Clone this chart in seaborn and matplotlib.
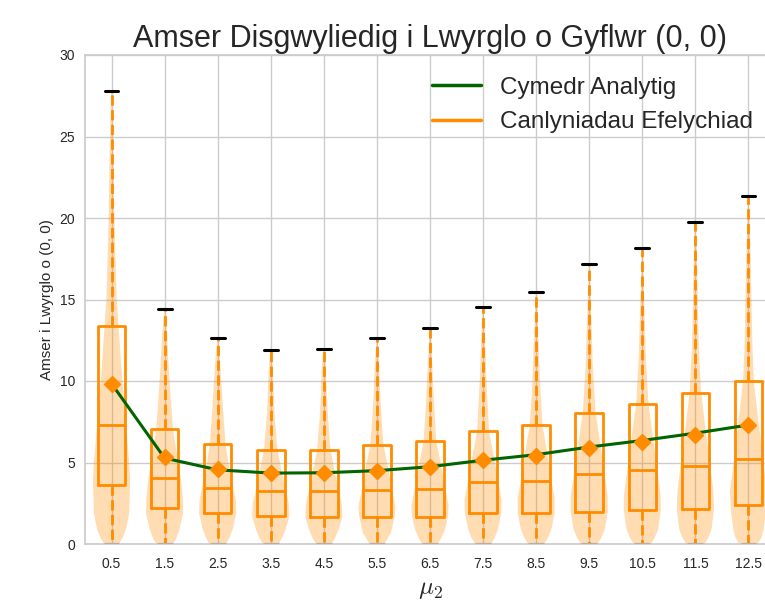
"""Violin + box summary of simulated time-to-absorption from state (0, 0),
with the analytic mean overlaid, for a sweep of mu_2."""
import matplotlib

matplotlib.use("Agg")
import matplotlib.pyplot as plt
import numpy as np
import seaborn as sns
from matplotlib.lines import Line2D

# values
MU2 = [0.5, 1.5, 2.5, 3.5, 4.5, 5.5, 6.5, 7.5, 8.5, 9.5, 10.5, 11.5, 12.5]
MINIMUM = [0, 0, 0, 0, 0, 0, 0, 0, 0, 0, 0, 0, 0]
Q1 = [3.65, 2.22, 1.88, 1.71, 1.63, 1.67, 1.67, 1.88, 1.88, 1.98, 2.08, 2.14, 2.39]
MEDIAN = [7.33, 4.06, 3.43, 3.25, 3.25, 3.31, 3.37, 3.78, 3.86, 4.27, 4.57, 4.80, 5.19]
Q3 = [13.35, 7.08, 6.12, 5.76, 5.78, 6.10, 6.31, 6.94, 7.31, 8.06, 8.57, 9.27, 9.98]
MAXIMUM = [27.8, 14.39, 12.63, 11.88, 11.98, 12.63, 13.23, 14.55, 15.45, 17.15, 18.19, 19.78, 21.35]
SIM_MEAN = [9.84, 5.31, 4.59, 4.35, 4.35, 4.49, 4.73, 5.14, 5.39, 5.92, 6.27, 6.67, 7.29]
ANALYTIC_MEAN = [9.84, 5.27, 4.55, 4.35, 4.37, 4.50, 4.74, 5.14, 5.48, 5.95, 6.35, 6.80, 7.30]

# violin outlines: levels (y) and relative half-width at each level
VIOLIN_LEVELS = [
    [0, 0.4, 0.9, 1.9, 3.9, 5.0, 7.0, 10.0, 13.3, 15.0, 18.0, 21.0, 24.0, 27.8],
    [0, 0.4, 0.9, 1.9, 2.8, 4.0, 5.3, 7.1, 8.8, 10.9, 12.9, 14.39],
    [0, 0.4, 0.9, 1.9, 2.7, 3.5, 4.6, 6.1, 8.2, 10.2, 11.5, 12.63],
    [0, 0.4, 0.9, 1.7, 2.5, 3.3, 4.4, 5.8, 7.8, 9.5, 10.9, 11.88],
    [0, 0.4, 0.9, 1.7, 2.5, 3.3, 4.4, 5.8, 7.8, 9.5, 11.0, 11.98],
    [0, 0.4, 0.7, 1.7, 2.3, 3.5, 4.7, 6.1, 7.2, 8.8, 10.9, 12.63],
    [0, 0.4, 0.8, 1.7, 2.4, 3.5, 4.8, 6.3, 8.8, 11.0, 13.23],
    [0, 0.4, 0.9, 1.9, 2.7, 3.8, 5.1, 6.9, 10.0, 12.5, 14.55],
    [0, 0.4, 0.9, 1.9, 2.8, 3.9, 5.4, 7.3, 10.0, 13.0, 15.45],
    [0, 0.4, 0.9, 2.0, 3.0, 4.3, 5.9, 8.1, 11.0, 14.0, 17.15],
    [0, 0.4, 0.9, 2.1, 3.1, 4.6, 6.3, 8.6, 11.5, 15.0, 18.19],
    [0, 0.4, 0.9, 2.1, 3.2, 4.8, 6.7, 9.3, 11.9, 14.9, 18.0, 19.78],
    [0, 0.4, 0.9, 2.1, 3.2, 5.2, 7.3, 10.0, 11.9, 14.9, 18.0, 21.35],
]
VIOLIN_WIDTHS = [
    [0.40, 0.60, 0.78, 0.95, 1.0, 0.95, 0.80, 0.58, 0.38, 0.28, 0.20, 0.14, 0.10, 0.02],
    [0.45, 0.64, 0.80, 1.0, 0.98, 0.88, 0.68, 0.45, 0.34, 0.22, 0.13, 0.02],
    [0.45, 0.63, 0.80, 0.99, 0.97, 0.82, 0.62, 0.42, 0.29, 0.18, 0.11, 0.02],
    [0.42, 0.62, 0.80, 1.0, 0.97, 0.80, 0.60, 0.36, 0.21, 0.15, 0.10, 0.02],
    [0.42, 0.62, 0.80, 1.0, 0.96, 0.80, 0.60, 0.36, 0.22, 0.15, 0.10, 0.02],
    [0.40, 0.60, 0.76, 0.95, 1.0, 0.78, 0.60, 0.35, 0.28, 0.19, 0.12, 0.02],
    [0.42, 0.62, 0.78, 0.97, 1.0, 0.80, 0.60, 0.34, 0.21, 0.12, 0.02],
    [0.43, 0.63, 0.80, 0.98, 1.0, 0.82, 0.62, 0.32, 0.18, 0.11, 0.02],
    [0.44, 0.64, 0.82, 0.99, 1.0, 0.82, 0.62, 0.34, 0.20, 0.11, 0.02],
    [0.45, 0.66, 0.84, 1.0, 0.99, 0.82, 0.62, 0.34, 0.19, 0.11, 0.02],
    [0.47, 0.67, 0.85, 1.0, 0.98, 0.80, 0.60, 0.33, 0.19, 0.10, 0.02],
    [0.50, 0.70, 0.87, 1.0, 0.97, 0.80, 0.58, 0.31, 0.19, 0.13, 0.08, 0.02],
    [0.50, 0.70, 0.82, 0.95, 1.0, 0.78, 0.56, 0.29, 0.22, 0.16, 0.11, 0.02],
]

ORANGE = "darkorange"
GREEN = "darkgreen"


def _setup_style() -> None:
    sns.set_style("whitegrid")
    plt.rcParams["font.family"] = ["Liberation Sans", "DejaVu Sans"]
    plt.rcParams["mathtext.fontset"] = "cm"
    plt.rcParams["axes.edgecolor"] = "0.8"
    plt.rcParams["axes.linewidth"] = 1.25
    plt.rcParams["grid.color"] = "0.8"
    plt.rcParams["grid.linewidth"] = 1.0


def main() -> None:
    _setup_style()
    fig = plt.figure(figsize=(7.65, 6.09), dpi=100)
    ax = fig.add_axes([85 / 765, 65 / 609, 690 / 765, 489 / 609])

    vpstats = [
        dict(coords=np.array(lv, float), vals=np.array(w, float),
             mean=m, median=md, min=lo, max=hi)
        for lv, w, m, md, lo, hi in zip(VIOLIN_LEVELS, VIOLIN_WIDTHS, SIM_MEAN,
                                        MEDIAN, MINIMUM, MAXIMUM)
    ]
    parts = ax.violin(vpstats, positions=MU2, widths=0.7, showextrema=False)
    for body in parts["bodies"]:
        body.set_facecolor(ORANGE)
        body.set_edgecolor("none")
        body.set_alpha(0.3)
        body.set_zorder(1.5)

    box_stats = [
        dict(med=md, q1=a, q3=b, whislo=lo, whishi=hi, mean=m, fliers=[])
        for md, a, b, lo, hi, m in zip(MEDIAN, Q1, Q3, MINIMUM, MAXIMUM, SIM_MEAN)
    ]
    ax.bxp(
        box_stats, positions=MU2, widths=0.52, showmeans=True, showfliers=False,
        manage_ticks=False,
        boxprops=dict(color=ORANGE, linewidth=2),
        whiskerprops=dict(color=ORANGE, linewidth=2, linestyle="--"),
        capprops=dict(color="black", linewidth=2.2),
        medianprops=dict(color=ORANGE, linewidth=2),
        meanprops=dict(marker="D", markerfacecolor=ORANGE,
                       markeredgecolor=ORANGE, markersize=8.5, zorder=5),
    )

    sns.lineplot(x=MU2, y=ANALYTIC_MEAN, color=GREEN, linewidth=2.2,
                 ax=ax, zorder=4, legend=False)

    handles = [Line2D([], [], color=GREEN, linewidth=2.5),
               Line2D([], [], color=ORANGE, linewidth=2.5)]
    ax.legend(handles, ["Cymedr Analytig", "Canlyniadau Efelychiad"],
              loc="upper right", frameon=False, fontsize=17.5)

    ax.set_xlim(0, 13)
    ax.set_ylim(0, 30)
    ax.set_xticks(MU2)
    ax.set_xticklabels([f"{v}" for v in MU2], fontsize=10)
    ax.set_yticks(range(0, 31, 5))
    ax.set_yticklabels([str(v) for v in range(0, 31, 5)], fontsize=10)
    ax.tick_params(axis="x", pad=6)
    ax.set_xlabel(r"$\mu_2$", fontsize=18, labelpad=4)
    ax.set_ylabel("Amser i Lwyrglo o (0, 0)", fontsize=11)
    ax.set_title("Amser Disgwyliedig i Lwyrglo o Gyflwr (0, 0)", fontsize=22)

    fig.savefig("out.png", dpi=100)
    plt.close(fig)


if __name__ == "__main__":
    main()
